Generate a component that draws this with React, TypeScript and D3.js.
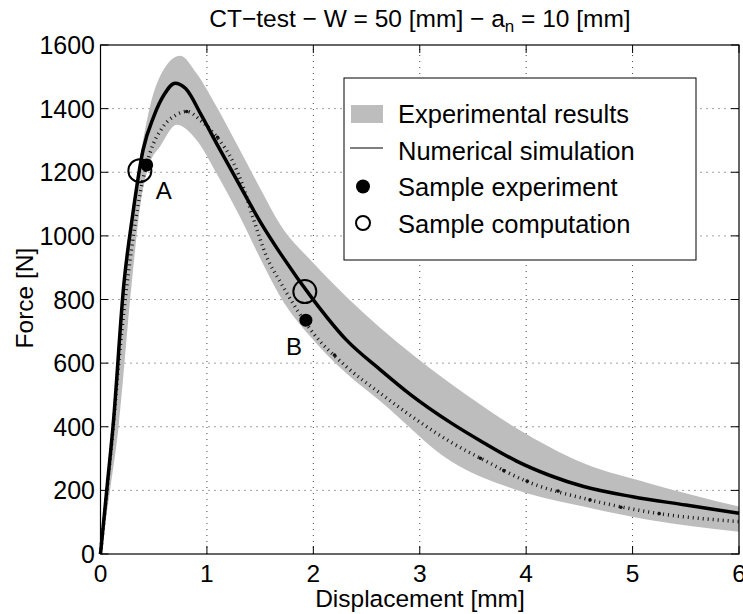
import React from 'react'
import * as d3 from 'd3'

// values: displacement [mm], force [N]
const simulation: [number, number][] = [
  [0, 0], [0.06, 205], [0.12, 410], [0.22, 850], [0.3, 1060], [0.4, 1270],
  [0.5, 1375], [0.6, 1445], [0.7, 1480], [0.8, 1463], [0.95, 1378],
  [1.09, 1291], [1.28, 1176], [1.5, 1045], [1.69, 945], [2.0, 799],
  [2.31, 673], [2.63, 579], [2.91, 502], [3.29, 413], [3.6, 350],
  [3.91, 292], [4.23, 246], [4.54, 212], [5.0, 180], [5.5, 154], [6, 128]
]

const bandUpper: [number, number][] = [
  [0, 0], [0.06, 200], [0.12, 400], [0.22, 840], [0.3, 1080], [0.4, 1300],
  [0.465, 1407], [0.575, 1512], [0.75, 1566], [0.9, 1512], [1.09, 1407],
  [1.31, 1270], [1.5, 1150], [1.69, 1035], [2.0, 915], [2.31, 809],
  [2.94, 625], [3.44, 500], [3.91, 395], [4.54, 285], [5.16, 222], [6, 149]
]

const bandLower: [number, number][] = [
  [0, 0], [0.09, 200], [0.17, 400], [0.29, 840], [0.38, 1110], [0.465, 1230],
  [0.56, 1281], [0.716, 1349], [0.9, 1302], [1.09, 1197], [1.31, 1060],
  [1.5, 930], [1.69, 809], [2.0, 673], [2.31, 568], [2.63, 480],
  [3.29, 292], [3.91, 201], [4.54, 149], [5.16, 107], [6, 70]
]

const experimentMean: [number, number][] = [
  [0, 0], [0.1, 330], [0.2, 700], [0.3, 980], [0.37, 1130], [0.465, 1260],
  [0.59, 1344], [0.7, 1378], [0.81, 1391], [0.95, 1360], [1.09, 1312],
  [1.25, 1229], [1.34, 1155], [1.44, 1050], [1.56, 935], [1.69, 855],
  [2.0, 694], [2.31, 589], [2.63, 505], [3.0, 415], [3.3, 350], [3.6, 296],
  [4.0, 229], [4.6, 170], [5.23, 128], [6.0, 102]
]

const meanMarkers: [number, number][] = [
  [0.81, 1391], [1.1, 1310], [2.2, 625], [3.57, 301], [3.79, 262],
  [4.01, 229], [4.3, 198], [4.6, 170], [4.89, 147], [5.25, 127]
]

const sampleExperiment: [number, number][] = [[0.434, 1223], [1.93, 735]]
const sampleComputation: [number, number][] = [[0.37, 1205], [1.92, 825]]
const sampleLabels = ['A', 'B']

const xTicks = [0, 1, 2, 3, 4, 5, 6]
const yTicks = [0, 200, 400, 600, 800, 1000, 1200, 1400, 1600]
const legendLabels = ['Experimental results', 'Numerical simulation', 'Sample experiment', 'Sample computation']

const W = 743
const H = 614
const FONT = 'Liberation Sans, Arial, Helvetica, sans-serif'
const BAND = '#bdbdbd'

export default function App() {
  const x = d3.scaleLinear().domain([0, 6]).range([100.5, 739])
  const y = d3.scaleLinear().domain([0, 1600]).range([554, 45])
  const [x0, x1] = x.range()
  const [y0, y1] = y.range()

  const line = d3
    .line<[number, number]>()
    .x(d => x(d[0]))
    .y(d => y(d[1]))
    .curve(d3.curveMonotoneX)

  const bandPath =
    line(bandUpper) + 'L' + line([...bandLower].reverse())!.slice(1) + 'Z'

  const tickLen = 8

  return (
    <svg width={W} height={H} style={{position: 'absolute', left: 0, top: 0}} fontFamily={FONT}>
      <rect width={W} height={H} fill="white" />

      {/* grid */}
      {xTicks.slice(1, -1).map(t => (
        <line key={'gx' + t} x1={x(t)} x2={x(t)} y1={y0} y2={y1} stroke="#444" strokeWidth={1} strokeDasharray="1 5" />
      ))}
      {yTicks.slice(1, -1).map(t => (
        <line key={'gy' + t} x1={x0} x2={x1} y1={y(t)} y2={y(t)} stroke="#444" strokeWidth={1} strokeDasharray="1 5" />
      ))}

      {/* experimental band */}
      <path d={bandPath} fill={BAND} stroke="none" />

      {/* experimental mean, dotted */}
      <path d={line(experimentMean)!} fill="none" stroke="#111" strokeWidth={3.5} strokeDasharray="1 4" />
      {meanMarkers.map((d, i) => (
        <circle key={'mm' + i} cx={x(d[0])} cy={y(d[1])} r={1.8} fill="#111" />
      ))}

      {/* numerical simulation */}
      <path d={line(simulation)!} fill="none" stroke="black" strokeWidth={3.5} strokeLinejoin="round" />

      {/* sample points */}
      {sampleExperiment.map((d, i) => (
        <circle key={'se' + i} cx={x(d[0])} cy={y(d[1])} r={6.5} fill="black" />
      ))}
      {sampleComputation.map((d, i) => (
        <circle key={'sc' + i} cx={x(d[0])} cy={y(d[1])} r={11.5} fill="none" stroke="black" strokeWidth={2} />
      ))}
      <text x={x(sampleComputation[0][0]) + 24} y={y(sampleComputation[0][1]) + 28} fontSize={24} textAnchor="middle">{sampleLabels[0]}</text>
      <text x={x(sampleExperiment[1][0]) - 12} y={y(sampleExperiment[1][1]) + 35} fontSize={24} textAnchor="middle">{sampleLabels[1]}</text>

      {/* axes box */}
      <rect x={x0} y={y1} width={x1 - x0} height={y0 - y1} fill="none" stroke="black" strokeWidth={1.2} />
      {xTicks.map(t => (
        <g key={'tx' + t}>
          <line x1={x(t)} x2={x(t)} y1={y0} y2={y0 - tickLen} stroke="black" />
          <line x1={x(t)} x2={x(t)} y1={y1} y2={y1 + tickLen} stroke="black" />
          <text x={x(t)} y={582} fontSize={24.5} textAnchor="middle">{t}</text>
        </g>
      ))}
      {yTicks.map(t => (
        <g key={'ty' + t}>
          <line x1={x0} x2={x0 + tickLen} y1={y(t)} y2={y(t)} stroke="black" />
          <line x1={x1} x2={x1 - tickLen} y1={y(t)} y2={y(t)} stroke="black" />
          <text x={95} y={y(t)} dy="0.36em" fontSize={25} textAnchor="end">{t}</text>
        </g>
      ))}

      {/* legend */}
      <g>
        <rect x={344} y={78} width={352} height={182} fill="white" stroke="black" strokeWidth={1} />
        <rect x={351} y={105} width={32} height={18} fill={BAND} />
        <line x1={350} x2={383} y1={148} y2={148} stroke="black" strokeWidth={1.2} />
        <circle cx={363} cy={186.5} r={7} fill="black" />
        <circle cx={363} cy={223} r={7} fill="none" stroke="black" strokeWidth={2} />
        {legendLabels.map((l, i) => (
          <text key={l} x={398} y={123 + i * 36.7} fontSize={25.5}>{l}</text>
        ))}
      </g>

      {/* titles */}
      <text x={420} y={27} fontSize={24.5} textAnchor="middle">
        CT−test − W = 50 [mm] − a<tspan fontSize={17} dy={5}>n</tspan><tspan dy={-5}> = 10 [mm]</tspan>
      </text>
      <text x={420} y={607} fontSize={24.5} textAnchor="middle">Displacement [mm]</text>
      <text transform="translate(33,298) rotate(-90)" fontSize={24.5} textAnchor="middle">Force [N]</text>
    </svg>
  )
}
